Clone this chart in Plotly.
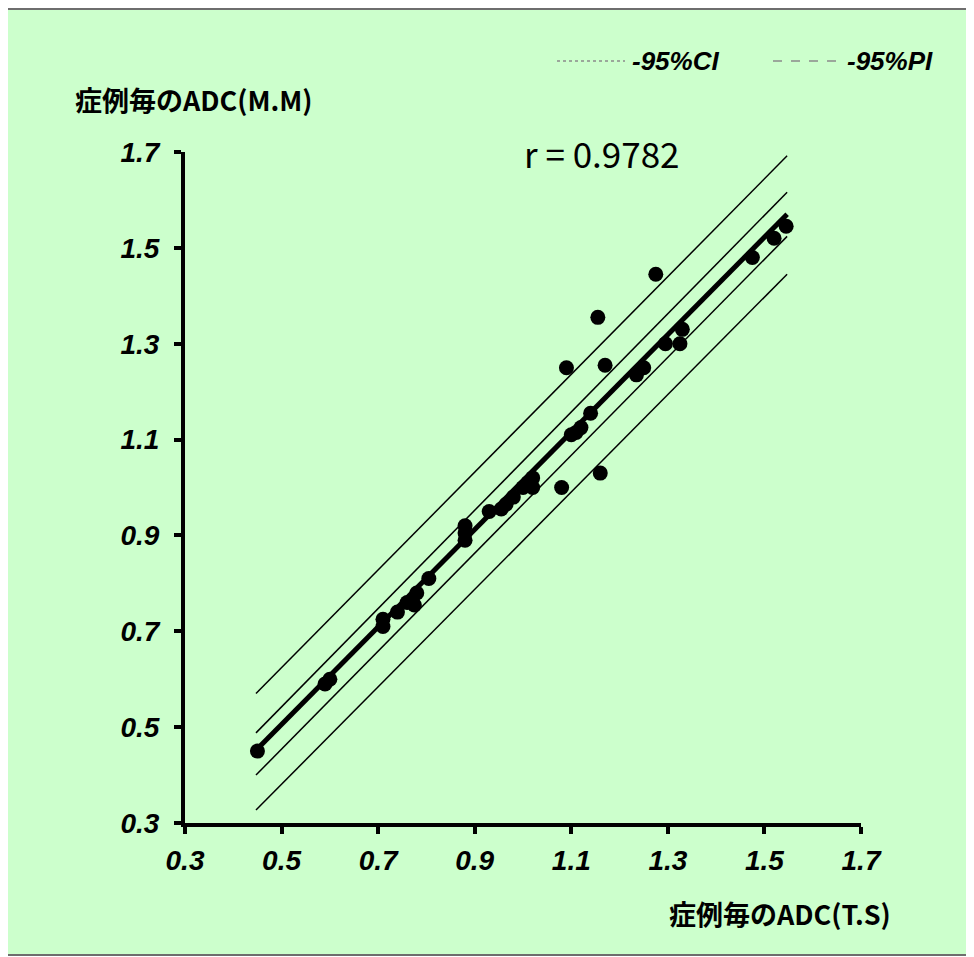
import plotly.graph_objects as go

# Scatter data (ADC per case): T.S (x) vs M.M (y)
adc_ts = [0.45, 0.59, 0.60, 0.71, 0.71, 0.74, 0.76, 0.775, 0.78, 0.805,
          0.88, 0.88, 0.88, 0.93, 0.955, 0.965, 0.98, 1.0, 1.01, 1.02, 1.02,
          1.08, 1.09, 1.10, 1.11, 1.12, 1.14, 1.155, 1.16, 1.17, 1.235, 1.25,
          1.275, 1.295, 1.325, 1.33, 1.475, 1.52, 1.545]
adc_mm = [0.45, 0.59, 0.60, 0.71, 0.725, 0.74, 0.76, 0.755, 0.78, 0.81,
          0.92, 0.905, 0.89, 0.95, 0.955, 0.965, 0.98, 1.0, 1.01, 1.02, 1.0,
          1.0, 1.25, 1.11, 1.115, 1.125, 1.155, 1.355, 1.03, 1.255, 1.235, 1.25,
          1.445, 1.30, 1.30, 1.33, 1.48, 1.52, 1.545]

# Fitted line and bands (end points)
line_x = [0.447, 1.547]
fit_y = [0.452, 1.570]
ci_upper_y = [0.488, 1.616]
ci_lower_y = [0.400, 1.524]
pi_upper_y = [0.570, 1.692]
pi_lower_y = [0.327, 1.445]

tick_vals = [0.3, 0.5, 0.7, 0.9, 1.1, 1.3, 1.5, 1.7]
tick_text = ["0.3", "0.5", "0.7", "0.9", "1.1", "1.3", "1.5", "1.7"]

W, H = 974, 957
OFF = 8  # page offset of the figure (body margin)
L, R, T, B = 185 - OFF, 861 - OFF, 152 - OFF, 823 - OFF  # plot area, figure px


def px(x):
    return (x - OFF - L) / (R - L)


def py(y):
    return (B - (y - OFF)) / (B - T)


fig = go.Figure()
for yy in [pi_upper_y, ci_upper_y, ci_lower_y, pi_lower_y]:
    fig.add_trace(go.Scatter(x=line_x, y=yy, mode="lines",
                             line=dict(color="black", width=1.5),
                             showlegend=False, hoverinfo="skip"))
fig.add_trace(go.Scatter(x=line_x, y=fit_y, mode="lines",
                         line=dict(color="black", width=5),
                         showlegend=False, hoverinfo="skip"))
fig.add_trace(go.Scatter(x=adc_ts, y=adc_mm, mode="markers",
                         marker=dict(color="black", size=15),
                         showlegend=False))

tickfont = dict(family="Liberation Sans, Arial", size=28, color="black",
                weight="bold", style="italic")
axis_common = dict(range=[0.3, 1.7], tickvals=tick_vals, ticktext=tick_text,
                   showgrid=False, zeroline=False, showline=True,
                   linecolor="black", linewidth=4, ticks="outside",
                   ticklen=7, tickwidth=4, tickcolor="black",
                   tickfont=tickfont)
fig.update_xaxes(**axis_common, ticklabelstandoff=2)
fig.update_yaxes(**axis_common, ticklabelstandoff=9)

jp_bold = dict(family="Noto Sans CJK JP", size=27, color="black", weight="bold")
legfont = dict(family="Liberation Sans, Arial", size=26, color="black",
               weight="bold", style="italic")

annotations = [
    dict(text="症例毎のADC(M.M)", x=px(73), y=py(100), xanchor="left",
         yanchor="middle", font=jp_bold),
    dict(text="症例毎のADC(T.S)", x=px(667), y=py(913), xanchor="left",
         yanchor="middle", font=jp_bold),
    dict(text="r = 0.9782", x=px(522), y=py(153), xanchor="left",
         yanchor="middle",
         font=dict(family="Noto Sans CJK JP", size=35, color="black")),
    dict(text="-95%CI", x=px(630), y=py(61), xanchor="left", yanchor="middle",
         font=legfont),
    dict(text="-95%PI", x=px(845), y=py(61), xanchor="left", yanchor="middle",
         font=legfont),
]
for a in annotations:
    a.update(xref="paper", yref="paper", showarrow=False)

shapes = [
    dict(type="rect", xref="paper", yref="paper", x0=px(7), x1=px(971),
         y0=py(9), y1=py(955), fillcolor="#CCFFCC",
         line=dict(color="#6e6e6e", width=2), layer="below"),
    dict(type="line", xref="paper", yref="paper", x0=px(557), x1=px(625),
         y0=py(61), y1=py(61), line=dict(color="#8a8a8a", width=1.5, dash="dot")),
    dict(type="line", xref="paper", yref="paper", x0=px(773), x1=px(840),
         y0=py(61), y1=py(61), line=dict(color="#8a8a8a", width=1.5, dash="dash")),
]

fig.update_layout(width=W, height=H,
                  margin=dict(l=L, r=W - R, t=T, b=H - B, pad=0),
                  paper_bgcolor="white", plot_bgcolor="rgba(0,0,0,0)",
                  showlegend=False, annotations=annotations, shapes=shapes)

fig.write_html("out.html")
